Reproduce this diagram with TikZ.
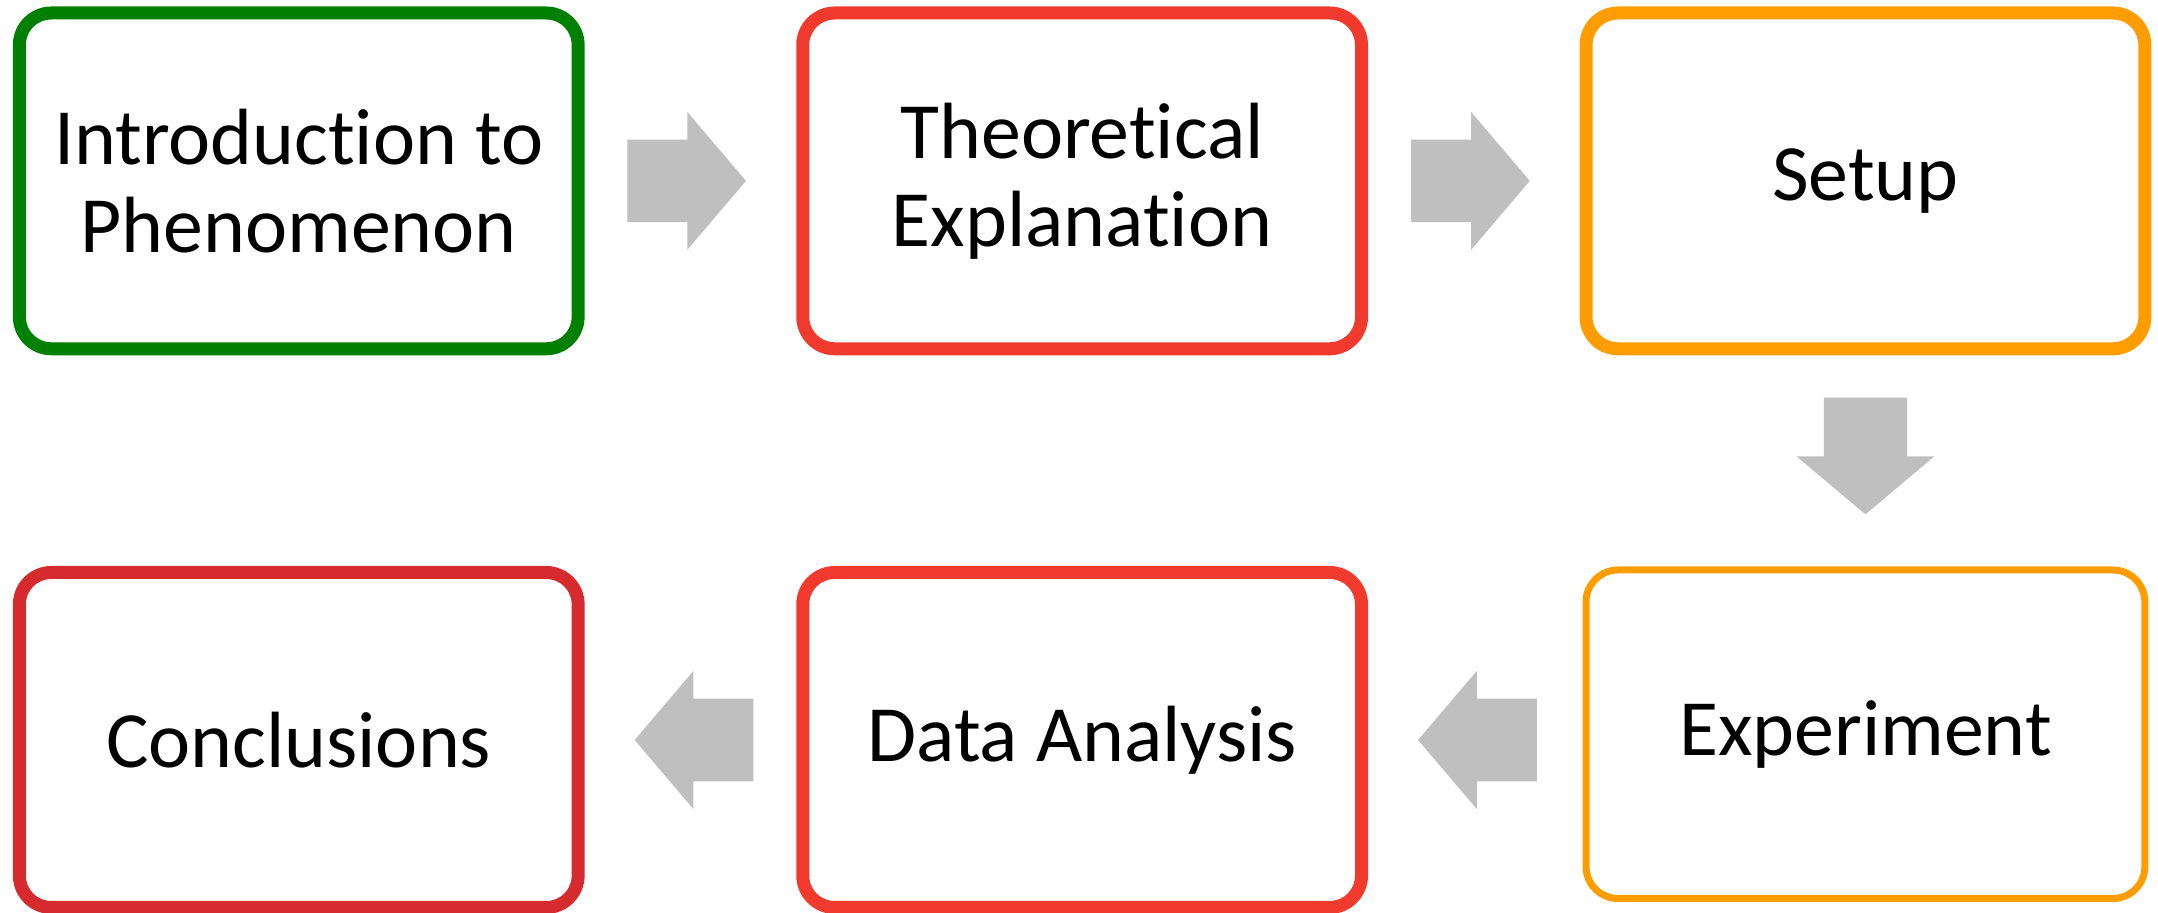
\documentclass[tikz,border=0pt]{standalone}
\usepackage{fontspec}
\setmainfont{Carlito}[Ligatures=NoCommon]
\usetikzlibrary{positioning}
\definecolor{introgreen}{RGB}{0,128,0}
\definecolor{stepred}{RGB}{239,58,45}
\definecolor{steporange}{RGB}{255,156,0}
\definecolor{concred}{RGB}{213,43,46}
\definecolor{arrowgray}{RGB}{191,191,191}

\begin{document}
\begin{tikzpicture}[
  stagebox/.style={draw, rectangle, rounded corners=0.32cm, line width=0.13cm, outer sep=0pt,
    minimum width=5.588cm, minimum height=3.358cm, align=center,
    font=\fontsize{22.7}{25}\selectfont},
  blockarrow/.style={fill=arrowgray}
]
\useasboundingbox (0,0) rectangle (21.58,-9.13);
% top row
\node[stagebox, draw=introgreen] (intro) at (2.9875,-1.809) {Introduction to\\Phenomenon};
\node[stagebox, draw=stepred, right=2.246cm of intro] (theory) {Theoretical\\Explanation};
\node[stagebox, draw=steporange, right=2.245cm of theory] (setup) {Setup};
% bottom row
\node[stagebox, draw=concred, minimum height=3.35cm, below=2.237cm of intro] (concl) {Conclusions};
\node[stagebox, draw=stepred, minimum height=3.35cm, right=2.246cm of concl] (analysis) {Data Analysis};
\node[stagebox, draw=steporange, line width=0.07cm, minimum height=3.285cm, below=2.212cm of setup] (expt) {Experiment};
% block arrows
\fill[blockarrow, shift={([xshift=0.491cm]intro.east)}] (0,0.413) -- (0.6,0.413) -- (0.6,0.69) -- (1.187,0) -- (0.6,-0.69) -- (0.6,-0.413) -- (0,-0.413) -- cycle;
\fill[blockarrow, shift={([xshift=0.495cm]theory.east)}] (0,0.413) -- (0.6,0.413) -- (0.6,0.69) -- (1.187,0) -- (0.6,-0.69) -- (0.6,-0.413) -- (0,-0.413) -- cycle;
\fill[blockarrow, shift={([yshift=-0.489cm]setup.south)}] (-0.416,0) -- (0.416,0) -- (0.416,-0.586) -- (0.69,-0.586) -- (0,-1.166) -- (-0.69,-0.586) -- (-0.416,-0.586) -- cycle;
\fill[blockarrow, shift={([xshift=0.565cm]analysis.east)}] (0,0) -- (0.587,0.69) -- (0.587,0.413) -- (1.187,0.413) -- (1.187,-0.413) -- (0.587,-0.413) -- (0.587,-0.69) -- cycle;
\fill[blockarrow, shift={([xshift=0.565cm]concl.east)}] (0,0) -- (0.587,0.69) -- (0.587,0.413) -- (1.187,0.413) -- (1.187,-0.413) -- (0.587,-0.413) -- (0.587,-0.69) -- cycle;
\end{tikzpicture}
\end{document}
